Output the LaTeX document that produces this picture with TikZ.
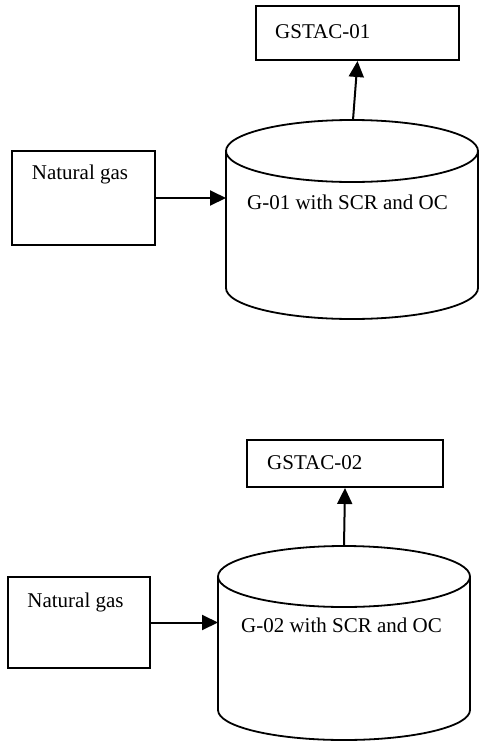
\documentclass[tikz,border=0pt]{standalone}
\usepackage{fontspec}
\setmainfont{Liberation Serif}
\usetikzlibrary{arrows.meta}
\begin{document}
\begin{tikzpicture}[x=1pt,y=-1pt,
  box/.style={draw,line width=2pt,inner sep=0pt,anchor=north west},
  lbl/.style={inner sep=0pt,font=\fontsize{21}{25}\selectfont},
  cyl/.style={line width=1.8pt},
  arr/.style={line width=2pt,-{Triangle[length=16pt,width=15pt]}}]
\useasboundingbox (0,0) rectangle (479,742);
% ---- upper part ----
\node[box,minimum width=203pt,minimum height=54pt] (g1) at (255,5) {};
\node[lbl,anchor=west] (g1t) at (275,32) {GSTAC-01};
\node[box,minimum width=143pt,minimum height=94pt] (ng1) at (11,150) {};
\node[lbl] (ng1t) at (80,174) {Natural gas};
\draw[cyl] (352,151) ellipse [x radius=126, y radius=31];
\draw[cyl] (226,151) -- (226,288) arc[start angle=180,end angle=0,x radius=126,y radius=31] -- (478,151);
\node[lbl] (c1t) at (347.5,202) {G-01 with SCR and OC};
\coordinate (c1top) at (353,120);
\coordinate (c1left) at (226,196);
\draw[arr] (ng1.east) -- (ng1.east -| c1left);
\draw[arr] (c1top) -- (g1.south);
% ---- lower part ----
\node[box,minimum width=196pt,minimum height=47pt] (g2) at (246,439) {};
\node[lbl,anchor=west] (g2t) at (267,463) {GSTAC-02};
\node[box,minimum width=142pt,minimum height=91pt] (ng2) at (7,576) {};
\node[lbl] (ng2t) at (75.5,602) {Natural gas};
\draw[cyl] (344,576.5) ellipse [x radius=126, y radius=30.5];
\draw[cyl] (218,576.5) -- (218,710) arc[start angle=180,end angle=0,x radius=126,y radius=30] -- (470,576.5);
\node[lbl] (c2t) at (341.5,625) {G-02 with SCR and OC};
\coordinate (c2top) at (344,546);
\coordinate (c2left) at (218,620);
\draw[arr] (ng2.east) -- (ng2.east -| c2left);
\draw[arr] (c2top) -- (g2.south);
\end{tikzpicture}
\end{document}
